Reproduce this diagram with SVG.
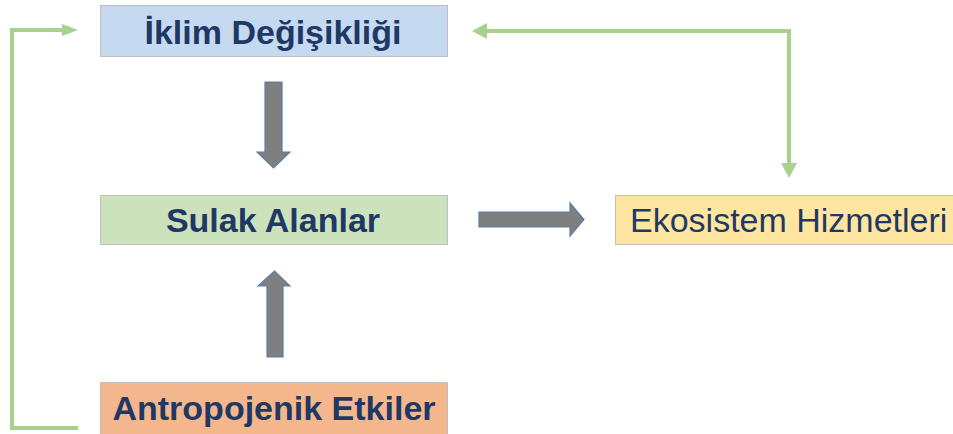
<svg xmlns="http://www.w3.org/2000/svg" width="953" height="434" viewBox="0 0 953 434">
<style>
.box{stroke:#bfbfbf;stroke-width:1}
.t{font-family:"Liberation Sans",Arial,sans-serif;font-size:34px;fill:#1f3864;text-anchor:middle}
.b{font-weight:bold}
.bigarrow{fill:#7f7f7f;stroke:#5b7fa6;stroke-width:1.2}
.fb{fill:none;stroke:#a9d18e;stroke-width:4}
.hd{fill:#a9d18e}
</style>
<rect width="953" height="434" fill="#ffffff"/>
<g id="iklim">
<rect class="box" x="100.5" y="5.5" width="347" height="51" fill="#c5daf0"/>
<text class="t b" x="273" y="44">İklim Değişikliği</text>
</g>
<g id="sulak">
<rect class="box" x="100.5" y="195.5" width="347" height="49" fill="#cce2bc"/>
<text class="t b" x="273" y="232">Sulak Alanlar</text>
</g>
<g id="ekosistem">
<rect class="box" x="615.5" y="195.5" width="345" height="49" fill="#fee6a1"/>
<text class="t" x="630" y="232" style="text-anchor:start">Ekosistem Hizmetleri</text>
</g>
<g id="antropojenik">
<rect class="box" x="100.5" y="382.5" width="347" height="53" fill="#f4b78d"/>
<text class="t b" x="274" y="420">Antropojenik Etkiler</text>
</g>
<g id="connectors">
<polygon class="bigarrow" points="265,82 282,82 282,152 290,152 273.5,168 257,152 265,152"/>
<polygon class="bigarrow" points="479,212 570,212 570,203 584,219.5 570,236 570,227 479,227"/>
<polygon class="bigarrow" points="267,357 283,357 283,286 290,286 274.5,271 258,286 267,286"/>
<polyline class="fb" points="78,428 12,428 12,30 63,30"/>
<polygon class="hd" points="62,24 78,30 62,36"/>
<polyline class="fb" points="486,31 789,31 789,164"/>
<polygon class="hd" points="487,23 472,31 487,39"/>
<polygon class="hd" points="781,163 797,163 789,178"/>
</g>
</svg>
